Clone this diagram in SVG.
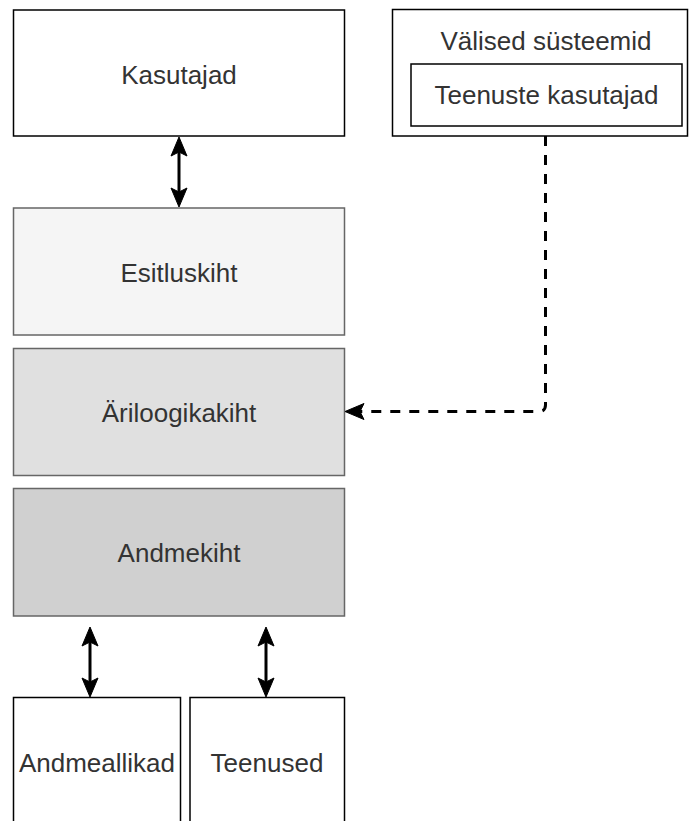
<svg xmlns="http://www.w3.org/2000/svg" width="689" height="821" viewBox="0 0 689 821">
<style>
  .box{fill:#ffffff;stroke:#000000;stroke-width:1.5}
  .layer{stroke:#666666;stroke-width:1.5}
  .lbl{font-family:"Liberation Sans",Arial,Helvetica,sans-serif;font-size:26px;fill:#333333;text-anchor:middle}
  .line{fill:none;stroke:#000000;stroke-width:3}
  .dash{fill:none;stroke:#000000;stroke-width:3;stroke-dasharray:10 9}
  .head{fill:#000000;stroke:#000000;stroke-width:1;stroke-linejoin:miter}
</style>
<rect width="689" height="821" fill="#ffffff"/>
<g id="kasutajad">
  <rect class="box" x="13.5" y="10" width="331" height="126"/>
  <text class="lbl" x="179" y="83.5">Kasutajad</text>
</g>
<g id="valised-systeemid">
  <rect class="box" x="392.5" y="9.5" width="295" height="126.5"/>
  <text class="lbl" x="546" y="50">Välised süsteemid</text>
</g>
<g id="teenuste-kasutajad">
  <rect class="box" x="411" y="64" width="271" height="62"/>
  <text class="lbl" x="546.5" y="103.5">Teenuste kasutajad</text>
</g>
<g id="esitluskiht">
  <rect class="layer" fill="#f5f5f5" x="13.5" y="208" width="331" height="127"/>
  <text class="lbl" x="179" y="281.5">Esitluskiht</text>
</g>
<g id="ariloogikakiht">
  <rect class="layer" fill="#e0e0e0" x="13.5" y="348.5" width="331" height="127"/>
  <text class="lbl" x="179" y="421.5">Äriloogikakiht</text>
</g>
<g id="andmekiht">
  <rect class="layer" fill="#d0d0d0" x="13.5" y="488.5" width="331" height="127.5"/>
  <text class="lbl" x="179" y="561.5">Andmekiht</text>
</g>
<g id="andmeallikad">
  <rect class="box" x="13.5" y="697.5" width="167" height="140"/>
  <text class="lbl" x="97" y="771.5">Andmeallikad</text>
</g>
<g id="teenused">
  <rect class="box" x="190" y="697.5" width="154.5" height="140"/>
  <text class="lbl" x="267" y="771.5">Teenused</text>
</g>
<g id="connectors">
  <line class="line" x1="179" y1="150" x2="179" y2="194"/>
  <path class="head" d="M179,137 L187,156 L179,152 L171,156 Z"/>
  <path class="head" d="M179,207 L187,188 L179,192 L171,188 Z"/>

  <line class="line" x1="90" y1="640" x2="90" y2="684"/>
  <path class="head" d="M90,627 L98,646 L90,642 L82,646 Z"/>
  <path class="head" d="M90,697 L98,678 L90,682 L82,678 Z"/>

  <line class="line" x1="266" y1="640" x2="266" y2="684"/>
  <path class="head" d="M266,627 L274,646 L266,642 L258,646 Z"/>
  <path class="head" d="M266,697 L274,678 L266,682 L258,678 Z"/>

  <path class="dash" d="M545.5,136 V405 Q545.5,411.5 539,411.5 H360"/>
  <path class="head" d="M345,411.5 L364,403.5 L360,411.5 L364,419.5 Z"/>
</g>
</svg>
